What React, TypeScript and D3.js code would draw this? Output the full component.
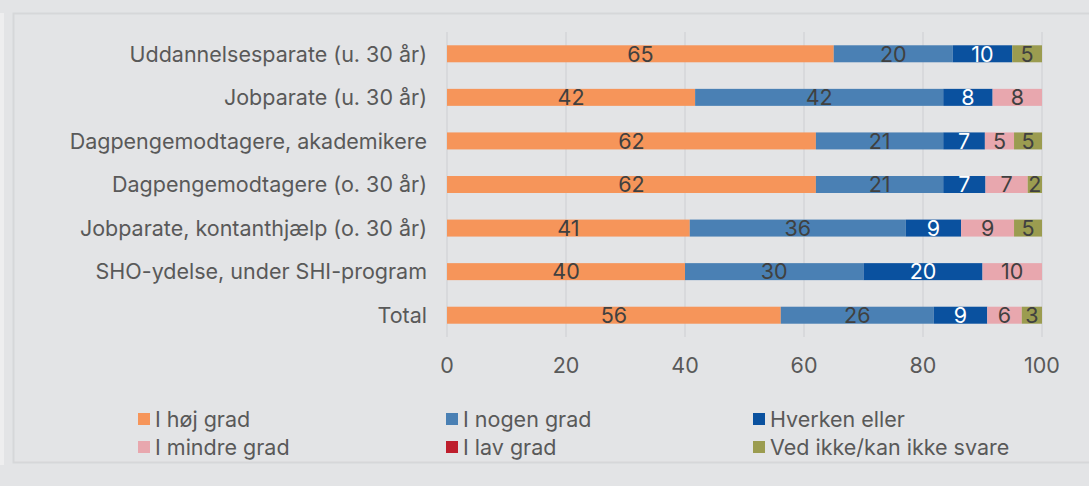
import React from "react";
import * as d3 from "d3";

// categories, top to bottom
const categories = [
  "Uddannelsesparate (u. 30 år)",
  "Jobparate (u. 30 år)",
  "Dagpengemodtagere, akademikere",
  "Dagpengemodtagere (o. 30 år)",
  "Jobparate, kontanthjælp (o. 30 år)",
  "SHO-ydelse, under SHI-program",
  "Total",
];

const seriesNames = [
  "I høj grad",
  "I nogen grad",
  "Hverken eller",
  "I mindre grad",
  "I lav grad",
  "Ved ikke/kan ikke svare",
];

// values per series, one entry per category (percent)
const hoejGrad = [65, 41.7, 62, 62, 40.8, 40, 56.1];
const nogenGrad = [20, 41.7, 21.4, 21.4, 36.3, 30, 25.7];
const hverkenEller = [10, 8.3, 7, 7.1, 9.3, 20, 9];
const mindreGrad = [0, 8.3, 4.9, 7.1, 8.9, 10, 5.8];
const lavGrad = [0, 0, 0, 0, 0, 0, 0];
const vedIkke = [5, 0, 4.7, 2.4, 4.7, 0, 3.4];

const seriesValues = [hoejGrad, nogenGrad, hverkenEller, mindreGrad, lavGrad, vedIkke];

const xTicks = [0, 20, 40, 60, 80, 100];

const colors = ["#f6955a", "#4a80b4", "#0a519f", "#e8a7ae", "#be1e2d", "#9b9c50"];
const labelColors = ["#404040", "#404040", "#ffffff", "#404040", "#ffffff", "#404040"];

const W = 1089;
const H = 486;
const FONT = "Inter, 'Noto Sans', sans-serif";
const FS = 21.5;

export default function App() {
  const x = d3.scaleLinear().domain([0, 100]).range([447, 1042]);
  const y = d3
    .scaleBand<string>()
    .domain(categories)
    .range([32, 337])
    .paddingInner(0.61)
    .paddingOuter(0.305);

  // build stacked table from the arrays
  const rows = categories.map((c, i) => {
    const r: Record<string, any> = { cat: c };
    seriesNames.forEach((s, j) => (r[s] = seriesValues[j][i]));
    return r;
  });
  const stacked = d3.stack<any>().keys(seriesNames)(rows);

  const legendCols = [138, 446, 753];
  const legendRows = [419, 447];

  return (
    <div style={{ position: "fixed", left: 0, top: 0, width: W, height: H }}>
      <svg width={W} height={H} style={{ display: "block", fontFamily: FONT }}>
        <rect x={0} y={0} width={W} height={H} fill="#e3e4e6" />
        <rect x={0} y={13} width={4} height={452} fill="#eeeeef" />
        <rect
          x={13.5}
          y={13.5}
          width={W}
          height={449}
          fill="#e3e4e6"
          stroke="#d6d7d9"
          strokeWidth={2}
        />

        {/* gridlines */}
        {xTicks.map((t) => (
          <line
            key={t}
            x1={x(t)}
            x2={x(t)}
            y1={32}
            y2={337}
            stroke="#d5d6d8"
            strokeWidth={1.5}
          />
        ))}

        {/* stacked bars */}
        {stacked.map((layer, si) => (
          <g key={layer.key}>
            {layer.map((d, ci) => {
              const v = d[1] - d[0];
              if (v <= 0) return null;
              const bx = x(d[0]);
              const bw = x(d[1]) - x(d[0]);
              const by = y(categories[ci])!;
              return (
                <g key={ci}>
                  <rect x={bx} y={by} width={bw} height={y.bandwidth()} fill={colors[si]} />
                  <text
                    x={bx + bw / 2}
                    y={by + y.bandwidth() / 2}
                    dy="0.36em"
                    textAnchor="middle"
                    fontSize={FS}
                    fill={labelColors[si]}
                  >
                    {Math.round(v)}
                  </text>
                </g>
              );
            })}
          </g>
        ))}

        {/* category labels */}
        {categories.map((c) => (
          <text
            key={c}
            x={427}
            y={y(c)! + y.bandwidth() / 2}
            dy="0.36em"
            textAnchor="end"
            fontSize={FS}
            fill="#595959"
          >
            {c}
          </text>
        ))}

        {/* x tick labels */}
        {xTicks.map((t) => (
          <text
            key={t}
            x={x(t)}
            y={365}
            dy="0.36em"
            textAnchor="middle"
            fontSize={FS}
            fill="#595959"
          >
            {t}
          </text>
        ))}

        {/* legend */}
        {seriesNames.map((s, i) => {
          const lx = legendCols[i % 3];
          const ly = legendRows[Math.floor(i / 3)];
          return (
            <g key={s}>
              <rect x={lx} y={ly - 6} width={12} height={12} fill={colors[i]} />
              <text x={lx + 17} y={ly} dy="0.36em" fontSize={FS} fill="#595959">
                {s}
              </text>
            </g>
          );
        })}
      </svg>
    </div>
  );
}
